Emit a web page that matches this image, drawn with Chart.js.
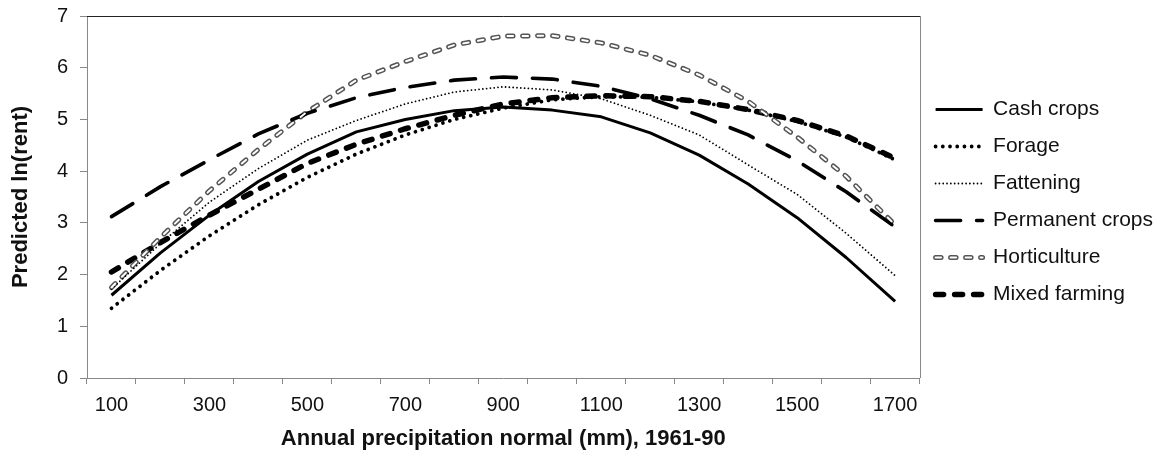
<!DOCTYPE html>
<html>
<head>
<meta charset="utf-8">
<script src="https://cdn.jsdelivr.net/npm/chart.js@4"></script>
<style>
html,body{margin:0;padding:0;background:#fff;}
#wrap{width:1169px;height:460px;position:relative;}
</style>
</head>
<body>
<div id="wrap"><canvas id="c" width="1169" height="460"></canvas></div>
<script>
// ---- data ----
const categories = ['100','200','300','400','500','600','700','800','900','1000','1100','1200','1300','1400','1500','1600','1700'];
const tickLabels = ['100','300','500','700','900','1100','1300','1500','1700'];
const yTicks = [0,1,2,3,4,5,6,7];

const cashCrops      = [1.60, 2.42, 3.15, 3.80, 4.33, 4.76, 5.00, 5.17, 5.24, 5.18, 5.05, 4.74, 4.31, 3.75, 3.10, 2.33, 1.48];
const forage         = [1.35, 2.08, 2.75, 3.35, 3.88, 4.33, 4.70, 5.00, 5.22, 5.38, 5.44, 5.43, 5.34, 5.18, 4.96, 4.66, 4.22];
const fattening      = [1.72, 2.60, 3.40, 4.05, 4.60, 4.98, 5.30, 5.53, 5.63, 5.57, 5.40, 5.08, 4.70, 4.12, 3.55, 2.80, 1.98];
const permanentCrops = [3.12, 3.70, 4.22, 4.72, 5.12, 5.42, 5.62, 5.76, 5.82, 5.78, 5.64, 5.40, 5.08, 4.70, 4.20, 3.60, 2.92];
const horticulture   = [1.75, 2.72, 3.62, 4.42, 5.15, 5.76, 6.12, 6.44, 6.61, 6.62, 6.48, 6.24, 5.86, 5.35, 4.66, 3.90, 2.96];
const mixedFarming   = [2.05, 2.62, 3.15, 3.65, 4.15, 4.52, 4.82, 5.08, 5.30, 5.42, 5.46, 5.44, 5.35, 5.19, 4.98, 4.68, 4.25];

const seriesNames = ['Cash crops','Forage','Fattening','Permanent crops','Horticulture','Mixed farming'];

const FONT = "'Liberation Sans', Arial, sans-serif";
const HORT_DASH = [5.5, 9.5];
const LEGEND_SAMPLE = 47;

const framePlugin = {
  id: 'frame',
  afterDraw(chart) {
    const {ctx, chartArea: a} = chart;
    ctx.save();
    ctx.lineWidth = 1;
    ctx.strokeStyle = '#222';
    ctx.beginPath();
    ctx.moveTo(a.left, Math.round(a.top) + 0.5);
    ctx.lineTo(a.right + 1, Math.round(a.top) + 0.5);
    ctx.stroke();
    ctx.strokeStyle = '#888';
    ctx.beginPath();
    ctx.moveTo(Math.round(a.right) + 0.5, a.top);
    ctx.lineTo(Math.round(a.right) + 0.5, a.bottom);
    ctx.stroke();
    // white core for the horticulture legend sample (double-line look)
    const lg = chart.legend;
    if (lg && lg.legendItems && lg.legendHitBoxes) {
      const fs = lg.options.labels.font.size;
      lg.legendItems.forEach((it, i) => {
        if (it.text !== seriesNames[4]) return;
        const hb = lg.legendHitBoxes[i];
        const y = hb.top + fs / 2;
        ctx.strokeStyle = '#fff';
        ctx.lineWidth = 2;
        ctx.lineCap = 'round';
        ctx.setLineDash(HORT_DASH);
        ctx.beginPath();
        ctx.moveTo(hb.left, y);
        ctx.lineTo(hb.left + LEGEND_SAMPLE, y);
        ctx.stroke();
      });
    }
    ctx.restore();
  }
};

function ds(label, data, style) {
  return Object.assign({
    label, data,
    borderColor: '#000',
    backgroundColor: '#000',
    borderWidth: 3,
    pointRadius: 0,
    pointHoverRadius: 0,
    tension: 0,
    fill: false,
    borderJoinStyle: 'round'
  }, style);
}

const datasets = [
  ds(seriesNames[0], cashCrops, {borderWidth: 3, borderDash: [], borderCapStyle: 'butt'}),
  ds(seriesNames[1], forage, {borderWidth: 3.8, borderDash: [0.01, 7.2], borderCapStyle: 'round'}),
  ds(seriesNames[2], fattening, {borderWidth: 1.8, borderDash: [0.01, 3.8], borderCapStyle: 'round'}),
  ds(seriesNames[3], permanentCrops, {borderWidth: 3.6, borderDash: [25, 16], borderCapStyle: 'round'}),
  ds('hcore', horticulture, {borderWidth: 2, borderColor: '#fff', backgroundColor: '#fff', borderDash: HORT_DASH, borderCapStyle: 'round', order: -1, inLegend: false}),
  ds(seriesNames[4], horticulture, {borderWidth: 5, borderColor: '#555', backgroundColor: '#555', borderDash: HORT_DASH, borderCapStyle: 'round'}),
  ds(seriesNames[5], mixedFarming, {borderWidth: 5.5, borderDash: [8, 11], borderCapStyle: 'round'})
];

new Chart(document.getElementById('c'), {
  type: 'line',
  data: { labels: categories, datasets },
  plugins: [framePlugin],
  options: {
    responsive: false,
    devicePixelRatio: 1,
    animation: false,
    events: [],
    layout: { padding: { left: 0, right: 6, top: 16, bottom: 0 } },
    plugins: {
      tooltip: { enabled: false },
      legend: {
        position: 'right',
        align: 'center',
        fullSize: false,
        title: { display: true, text: ' ', font: { size: 8, lineHeight: 1.25 }, padding: 0 },
        labels: {
          usePointStyle: true,
          pointStyle: 'line',
          pointStyleWidth: LEGEND_SAMPLE,
          boxHeight: 21,
          padding: 16,
          color: '#111',
          font: { family: FONT, size: 21 },
          generateLabels(chart) {
            return chart.data.datasets.map((d, i) => ({
              text: d.label,
              fillStyle: d.borderColor,
              strokeStyle: d.borderColor,
              lineWidth: d.borderWidth,
              lineDash: d.borderDash,
              lineCap: d.borderCapStyle,
              pointStyle: 'line',
              hidden: false,
              datasetIndex: i,
              fontColor: '#111',
              inLegend: d.inLegend
            })).filter(it => it.inLegend !== false);
          }
        }
      }
    },
    scales: {
      x: {
        type: 'category',
        offset: true,
        afterFit(s) { s.height = 82; },
        grid: { offset: true, drawOnChartArea: false, drawTicks: true, tickLength: 6, color: '#888', lineWidth: 1 },
        border: { display: true, color: '#888', width: 1 },
        ticks: {
          autoSkip: false, maxRotation: 0, minRotation: 0,
          padding: 9,
          color: '#111',
          font: { family: FONT, size: 20 },
          callback(v, i) { const l = categories[i]; return tickLabels.includes(l) ? l : ''; }
        },
        title: {
          display: true,
          text: 'Annual precipitation normal (mm), 1961-90',
          color: '#111',
          font: { family: FONT, size: 22, weight: 'bold' },
          padding: { top: 0, bottom: 8 }
        }
      },
      y: {
        min: 0, max: 7,
        afterFit(s) { s.width = 87; s.paddingTop = 0; s.paddingBottom = 0; },
        afterBuildTicks(s) { s.ticks = yTicks.map(v => ({ value: v })); },
        grid: { drawOnChartArea: false, drawTicks: true, tickLength: 7, color: '#888', lineWidth: 1 },
        border: { display: true, color: '#888', width: 1 },
        ticks: {
          stepSize: 1,
          padding: 12,
          color: '#111',
          font: { family: FONT, size: 20 }
        },
        title: {
          display: true,
          text: 'Predicted ln(rent)',
          color: '#111',
          font: { family: FONT, size: 22, weight: 'bold' },
          padding: { top: 8, bottom: 0 }
        }
      }
    }
  }
});
</script>
</body>
</html>
